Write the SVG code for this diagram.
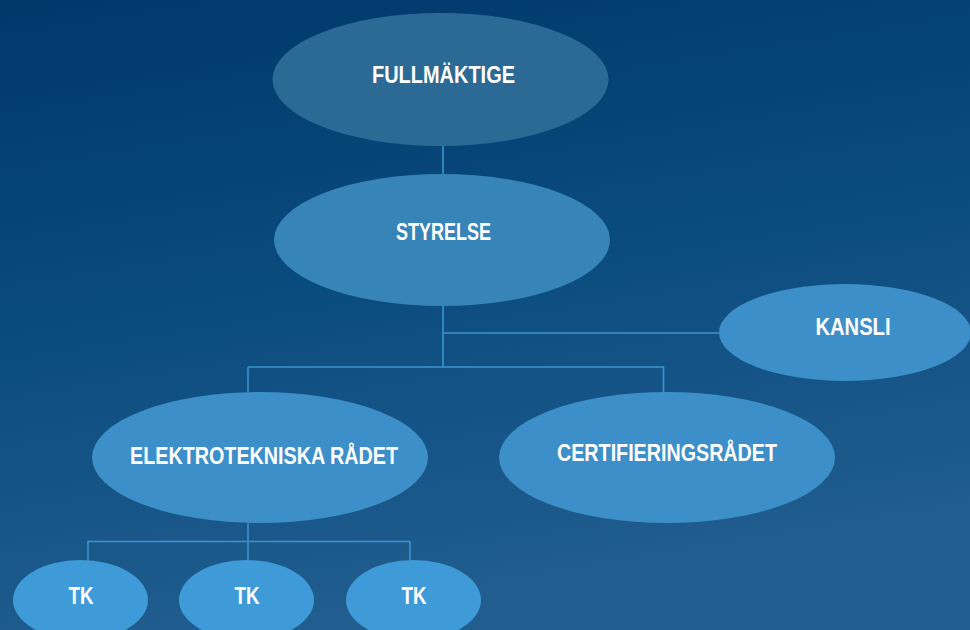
<svg xmlns="http://www.w3.org/2000/svg" width="970" height="630" viewBox="0 0 970 630">
  <defs>
    <linearGradient id="bg" x1="0" y1="0" x2="0.25" y2="1">
      <stop offset="0" stop-color="#00386a"/>
      <stop offset="0.5" stop-color="#0a4b7e"/>
      <stop offset="1" stop-color="#215d8f"/>
    </linearGradient>
  </defs>
  <style>
    .lbl { font-family: "Liberation Sans", Arial, sans-serif; font-weight: bold; font-size: 23px; fill: #ffffff; text-anchor: middle; }
    .conn { stroke: #3d93d0; stroke-width: 1.6; fill: none; }
    .top { fill: #2b6a94; }
    .board { fill: #3784b9; }
    .mid { fill: #3c8fc8; }
    .tk { fill: #3e9bd8; }
  </style>
  <rect x="0" y="0" width="970" height="630" fill="url(#bg)"/>

  <g id="connectors">
    <path class="conn" d="M443 146 V174"/>
    <path class="conn" d="M443 306 V367"/>
    <path class="conn" d="M443 333 H720"/>
    <path class="conn" d="M248 367 H664"/>
    <path class="conn" d="M248 367 V392"/>
    <path class="conn" d="M663.5 367 V407"/>
    <path class="conn" d="M248 523 V560"/>
    <path class="conn" d="M88 541.5 H410"/>
    <path class="conn" d="M88 541 V561"/>
    <path class="conn" d="M410 541 V561"/>
  </g>

  <g id="fullmaktige">
    <ellipse class="top" cx="440.5" cy="79.5" rx="168" ry="66.5"/>
    <text class="lbl" x="443.5" y="83" textLength="143" lengthAdjust="spacingAndGlyphs">FULLMÄKTIGE</text>
  </g>

  <g id="styrelse">
    <ellipse class="board" cx="442" cy="240" rx="168" ry="66"/>
    <text class="lbl" x="443.5" y="240" textLength="95" lengthAdjust="spacingAndGlyphs">STYRELSE</text>
  </g>

  <g id="kansli">
    <ellipse class="mid" cx="845" cy="332.5" rx="126" ry="48.5"/>
    <text class="lbl" x="853" y="335" textLength="75" lengthAdjust="spacingAndGlyphs">KANSLI</text>
  </g>

  <g id="elektrotekniska">
    <ellipse class="mid" cx="260" cy="457.5" rx="168" ry="65.5"/>
    <text class="lbl" x="264" y="464" textLength="268" lengthAdjust="spacingAndGlyphs">ELEKTROTEKNISKA RÅDET</text>
  </g>

  <g id="certifiering">
    <ellipse class="mid" cx="667" cy="457.5" rx="168" ry="65.5"/>
    <text class="lbl" x="667" y="461" textLength="220" lengthAdjust="spacingAndGlyphs">CERTIFIERINGSRÅDET</text>
  </g>

  <g id="tk1">
    <ellipse class="tk" cx="80.5" cy="600" rx="67.5" ry="40"/>
    <text class="lbl" x="81" y="604" textLength="25" lengthAdjust="spacingAndGlyphs">TK</text>
  </g>
  <g id="tk2">
    <ellipse class="tk" cx="246.5" cy="600" rx="67.5" ry="40"/>
    <text class="lbl" x="247" y="604" textLength="25" lengthAdjust="spacingAndGlyphs">TK</text>
  </g>
  <g id="tk3">
    <ellipse class="tk" cx="413.5" cy="600" rx="67.5" ry="40"/>
    <text class="lbl" x="414" y="604" textLength="25" lengthAdjust="spacingAndGlyphs">TK</text>
  </g>
</svg>
